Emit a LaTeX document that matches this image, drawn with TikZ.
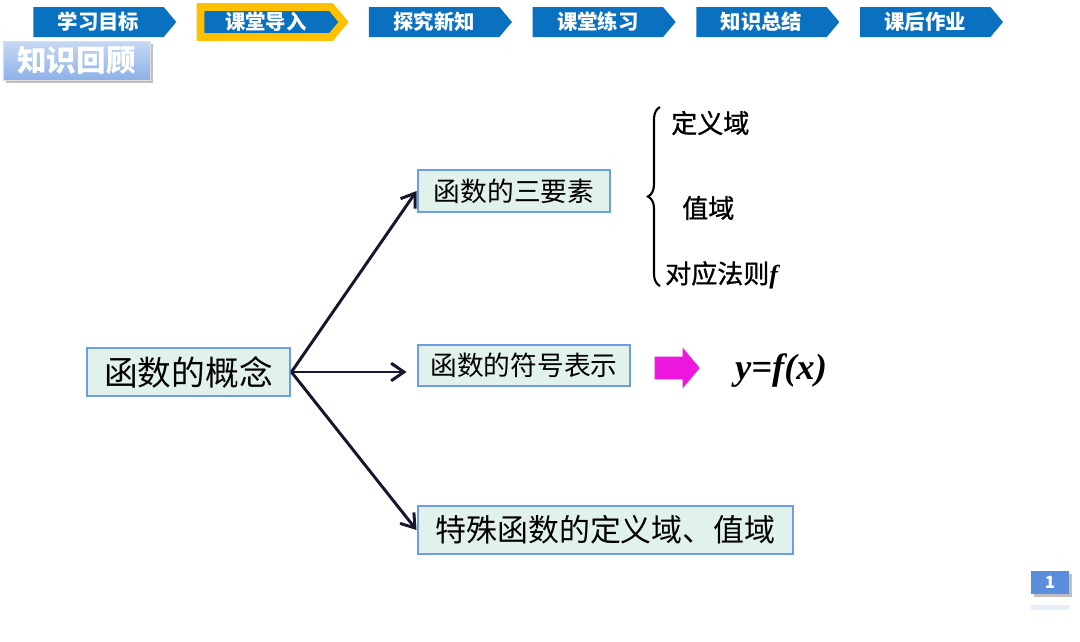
\documentclass[tikz,border=0pt]{standalone}
\usepackage{fontspec}
\setmainfont{Liberation Serif}
\newfontfamily\cjk{Noto Sans CJK SC}
\newfontfamily\cjkmid[FakeBold=1]{Noto Sans CJK SC}
\usetikzlibrary{positioning,arrows.meta,shapes.symbols,shapes.arrows,shadows,decorations.pathreplacing}
\definecolor{navblue}{HTML}{0A70C0}
\definecolor{navgold}{HTML}{FFC000}
\definecolor{edgeblue}{HTML}{6D9EE3}
\definecolor{paleteal}{HTML}{E1F1EB}
\definecolor{inkblue}{HTML}{16162E}
\definecolor{pinkarrow}{HTML}{EC16DE}
\definecolor{pageblue}{HTML}{5A8DDC}
\definecolor{tagtop}{HTML}{C6D8F3}
\definecolor{tagbot}{HTML}{8DB1E8}

\begin{document}
\begin{tikzpicture}[x=0.025cm,y=-0.025cm,node distance=0.5cm]
  \tikzstyle{navbox}=[signal,signal to=east,signal pointer angle=100,fill=navblue,text=white,minimum width=3.575cm,minimum height=0.75cm,inner sep=0pt,font=\cjk\bfseries\fontsize{14.5}{16}\selectfont]
  \tikzstyle{conbox}=[draw=edgeblue,line width=2pt,fill=paleteal,inner sep=0pt]
  \tikzstyle{item}=[anchor=west,inner sep=0pt,font=\cjkmid\fontsize{18.5}{20}\selectfont]
  \tikzstyle{link}=[-{Straight Barb[length=3.2mm,width=4.4mm]},inkblue,line width=2.1pt]
  \useasboundingbox (0,0) rectangle (1080,641);
  % top bar
  \node[navbox,anchor=west] (n1) at (33,22) {学习目标};
  \node[navbox,draw=navgold,line width=5.5pt,right=of n1] (n2) {课堂导入};
  \node[navbox,right=of n2] (n3) {探究新知};
  \node[navbox,right=of n3] (n4) {课堂练习};
  \node[navbox,right=of n4] (n5) {知识总结};
  \node[navbox,right=of n5] (n6) {课后作业};
  \node[top color=tagtop,bottom color=tagbot,draw=gray!25,drop shadow,text=white,minimum width=3.675cm,minimum height=0.975cm,inner sep=0pt,font=\cjk\bfseries\fontsize{21}{22}\selectfont] (review) at (76.5,60.5) {知识回顾};
  % concept boxes
  \node[conbox,minimum width=5.075cm,minimum height=1.2cm,font=\cjk\fontsize{24}{26}\selectfont] (concept) at (188.5,372) {函数的概念};
  \node[conbox,minimum width=4.8cm,minimum height=1.05cm,font=\cjk\fontsize{19}{21}\selectfont] (three) at (514,191) {函数的三要素};
  \node[conbox,minimum width=5.3cm,minimum height=1.025cm,font=\cjk\fontsize{19}{21}\selectfont] (symbol) at (524,365.5) {函数的符号表示};
  \node[conbox,minimum width=9.375cm,minimum height=1.2cm,font=\cjk\fontsize{22}{24}\selectfont] (spec) at (605.5,530) {特殊函数的定义域、值域};
  \draw[link] (concept.east) -- (three.west);
  \draw[link,shorten >=0.25cm] (concept.east) -- (concept.east -| symbol.west);
  \draw[link] (concept.east) -- (spec.west);
  % three elements
  \coordinate (bbot) at (660,286);
  \coordinate (btop) at (660,107);
  \draw[decorate,decoration={brace,amplitude=0.3cm},line width=1.5pt] (bbot) -- (btop);
  \node[item] (dom) at (671,123) {定义域};
  \node[item] (rng) at (682,208) {值域};
  \node[item] (rule) at (665,275) {对应法则{\rmfamily\itshape\bfseries f}};
  % notation
  \node[single arrow,fill=pinkarrow,minimum height=1.125cm,inner xsep=0pt,inner ysep=0.275cm,single arrow head extend=0.225cm,single arrow tip angle=100] (pink) at (672.5,368) {};
  \node[inner sep=0pt,font=\rmfamily\bfseries\itshape\fontsize{26}{28}\selectfont] (func) at (781,371) {y=f(x)};
  % page number
  \node[fill=pageblue,drop shadow,text=white,minimum width=0.95cm,minimum height=0.575cm,inner sep=0pt,font=\cjk\bfseries\fontsize{12}{14}\selectfont] (page) at (1050,582) {1};
  \fill[pageblue!15] (1031,605) rectangle (1069,610);
\end{tikzpicture}
\end{document}
